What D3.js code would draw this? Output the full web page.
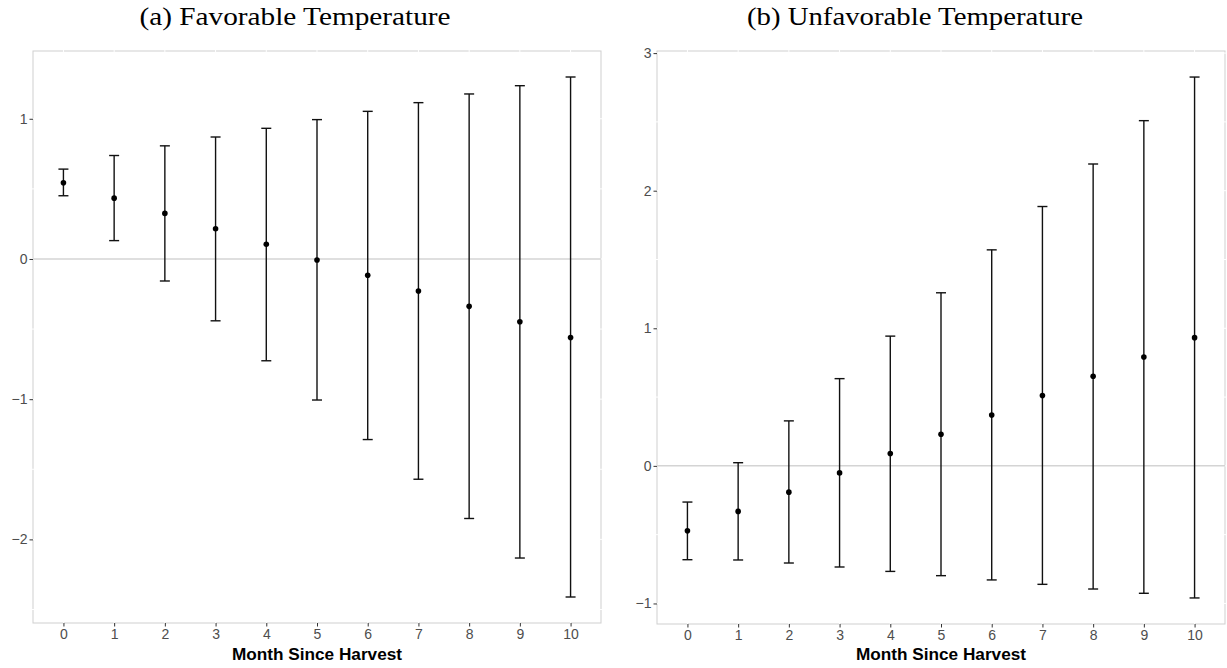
<!DOCTYPE html>
<html>
<head>
<meta charset="utf-8">
<script src="https://cdn.jsdelivr.net/npm/d3@7"></script>
<style>
  body { margin: 0; background: #fff; }
  svg { display: block; }
</style>
</head>
<body>
<svg id="chart" width="1227" height="668"></svg>
<script>
const months = [0, 1, 2, 3, 4, 5, 6, 7, 8, 9, 10]

// (a) favorable temperature
const favEst = [0.544, 0.434, 0.325, 0.216, 0.105, -0.007, -0.116, -0.228, -0.338, -0.448, -0.560]
const favLow = [0.451, 0.131, -0.157, -0.441, -0.726, -1.006, -1.288, -1.571, -1.851, -2.133, -2.411]
const favHigh = [0.641, 0.738, 0.807, 0.870, 0.932, 0.994, 1.053, 1.115, 1.177, 1.236, 1.298]
const favTicks = [-2, -1, 0, 1]

// (b) unfavorable temperature
const unfEst = [-0.472, -0.331, -0.191, -0.051, 0.090, 0.230, 0.370, 0.511, 0.651, 0.791, 0.932]
const unfLow = [-0.682, -0.684, -0.706, -0.735, -0.767, -0.798, -0.829, -0.861, -0.895, -0.926, -0.960]
const unfHigh = [-0.263, 0.023, 0.327, 0.634, 0.943, 1.258, 1.570, 1.885, 2.194, 2.509, 2.826]
const unfTicks = [-1, 0, 1, 2, 3]

const xTitle = "Month Since Harvest"

const svg = d3.select("#chart")

function drawPanel(opts) {
  const { left, right, top, bottom, est, low, high, ticks, title, titleX, titleLen } = opts

  let lo = d3.min(low), hi = d3.max(high)
  let pad = (hi - lo) * 0.05

  let x = d3.scalePoint()
    .domain(months)
    .range([left, right])
    .padding(0.6)

  let y = d3.scaleLinear()
    .domain([lo - pad, hi + pad])
    .range([bottom, top])

  let g = svg.append("g")

  // panel border
  g.append("rect")
    .attr("x", left).attr("y", top)
    .attr("width", right - left).attr("height", bottom - top)
    .attr("fill", "none")
    .attr("stroke", "#cfcfcf")
    .attr("stroke-width", 1)

  // white grid (only shows where it cuts the border)
  let minor = []
  for (let i = 0; i < ticks.length - 1; i++) minor.push((ticks[i] + ticks[i + 1]) / 2)
  minor.push(ticks[0] - 0.5, ticks[ticks.length - 1] + 0.5)
  g.selectAll(".gy")
    .data(ticks.concat(minor).filter(v => y(v) > top + 1 && y(v) < bottom - 1))
    .join("line")
      .attr("x1", left - 1).attr("x2", right + 1)
      .attr("y1", d => y(d)).attr("y2", d => y(d))
      .attr("stroke", "#fff").attr("stroke-width", 1)
  g.selectAll(".gx")
    .data(months)
    .join("line")
      .attr("x1", d => x(d)).attr("x2", d => x(d))
      .attr("y1", top - 1).attr("y2", bottom + 1)
      .attr("stroke", "#fff").attr("stroke-width", 1)

  // zero line
  g.append("line")
    .attr("x1", left).attr("x2", right)
    .attr("y1", y(0)).attr("y2", y(0))
    .attr("stroke", "#d4d4d4")
    .attr("stroke-width", 1.5)

  // axes
  let yAxis = d3.axisLeft(y)
    .tickValues(ticks)
    .tickSize(3.5)
    .tickPadding(2)
    .tickFormat(d => d < 0 ? "\u2212" + Math.abs(d) : d)
  let ya = g.append("g")
    .attr("transform", `translate(${left},0)`)
    .call(yAxis)
  ya.select(".domain").remove()

  let xAxis = d3.axisBottom(x).tickSize(3.5).tickPadding(3)
  let xa = g.append("g")
    .attr("transform", `translate(0,${bottom})`)
    .call(xAxis)
  xa.select(".domain").remove()

  svg.selectAll(".tick line").attr("stroke", "#333").attr("stroke-width", 1)
  svg.selectAll(".tick text")
    .attr("fill", "#4d4d4d")
    .style("font-family", "'Liberation Sans', Arial, sans-serif")
    .style("font-size", "14px")

  // error bars
  let bars = g.selectAll(".bar")
    .data(months)
    .join("g")
  bars.append("line")
    .attr("x1", d => x(d)).attr("x2", d => x(d))
    .attr("y1", (d, i) => y(low[i])).attr("y2", (d, i) => y(high[i]))
    .attr("stroke", "#111").attr("stroke-width", 1.4)
  bars.append("line")
    .attr("x1", d => x(d) - 5).attr("x2", d => x(d) + 5)
    .attr("y1", (d, i) => y(low[i])).attr("y2", (d, i) => y(low[i]))
    .attr("stroke", "#111").attr("stroke-width", 1.4)
  bars.append("line")
    .attr("x1", d => x(d) - 5).attr("x2", d => x(d) + 5)
    .attr("y1", (d, i) => y(high[i])).attr("y2", (d, i) => y(high[i]))
    .attr("stroke", "#111").attr("stroke-width", 1.4)

  g.selectAll(".pt")
    .data(months)
    .join("circle")
      .attr("cx", d => x(d))
      .attr("cy", (d, i) => y(est[i]))
      .attr("r", 2.8)
      .attr("fill", "#000")

  // axis title
  g.append("text")
    .attr("x", (left + right) / 2)
    .attr("y", 660)
    .attr("text-anchor", "middle")
    .style("font-family", "'Liberation Sans', Arial, sans-serif")
    .style("font-weight", "bold")
    .style("font-size", "17.2px")
    .attr("fill", "#000")
    .text(xTitle)

  // subfigure caption
  g.append("text")
    .attr("x", titleX)
    .attr("y", 25)
    .attr("text-anchor", "middle")
    .attr("textLength", titleLen)
    .attr("lengthAdjust", "spacingAndGlyphs")
    .style("font-family", "'Liberation Serif', 'DejaVu Serif', serif")
    .style("font-size", "25px")
    .attr("fill", "#000")
    .text(title)
}

drawPanel({
  left: 33, right: 601, top: 51, bottom: 623,
  est: favEst, low: favLow, high: favHigh, ticks: favTicks,
  title: "(a) Favorable Temperature", titleX: 295, titleLen: 311
})

drawPanel({
  left: 657, right: 1225, top: 51, bottom: 624,
  est: unfEst, low: unfLow, high: unfHigh, ticks: unfTicks,
  title: "(b) Unfavorable Temperature", titleX: 915, titleLen: 336
})
</script>
</body>
</html>
